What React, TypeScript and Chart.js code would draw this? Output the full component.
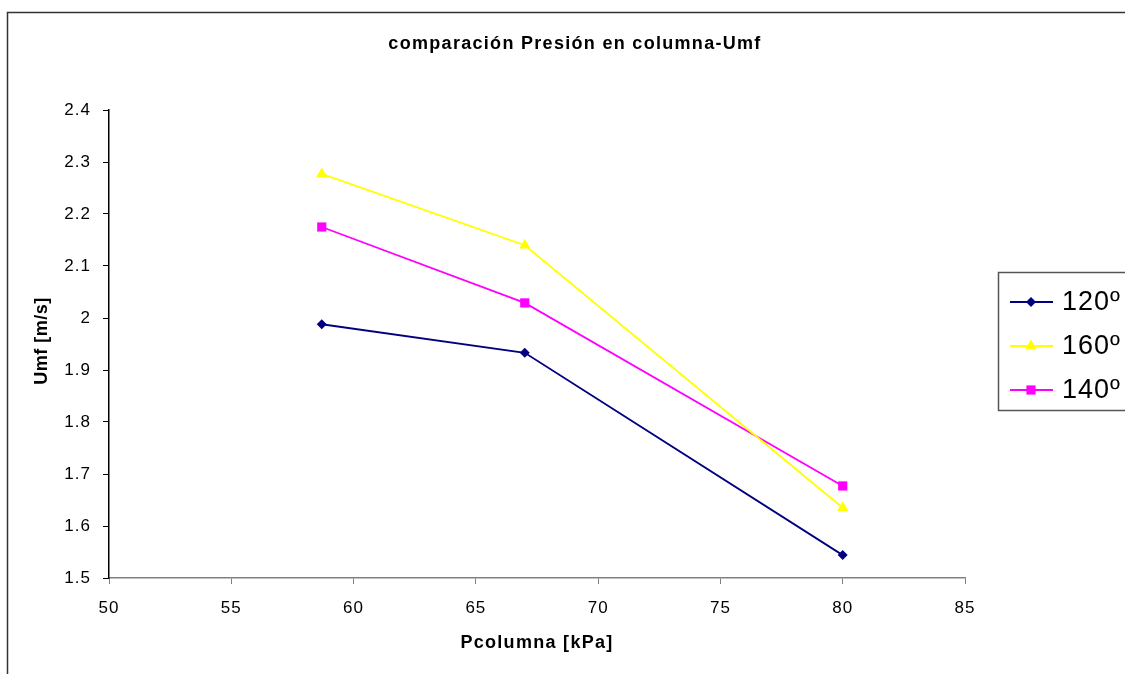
import React, { useEffect, useRef } from "react";
import { Chart, registerables } from "chart.js";

Chart.register(...registerables);

const xValues = [58.7, 67, 80];
const series120 = [1.988, 1.933, 1.544];
const series160 = [2.277, 2.14, 1.635];
const series140 = [2.175, 2.029, 1.677];
const seriesNames = ["120º", "160º", "140º"];
const chartTitle = "comparación Presión en columna-Umf";
const xTitle = "Pcolumna [kPa]";
const yTitle = "Umf [m/s]";

const FONT = "'Liberation Sans', Arial, sans-serif";

const colors = ["#000080", "#FFFF00", "#FF00FF"];
const styles: any[] = ["rectRot", "triangle", "rect"];
const radii = [5, 6.5, 6.5];

function drawMarker(ctx: CanvasRenderingContext2D, style: string, x: number, y: number, r: number, color: string) {
  ctx.save();
  ctx.fillStyle = color;
  ctx.beginPath();
  if (style === "rectRot") {
    ctx.moveTo(x, y - r);
    ctx.lineTo(x + r, y);
    ctx.lineTo(x, y + r);
    ctx.lineTo(x - r, y);
  } else if (style === "triangle") {
    ctx.moveTo(x, y - r);
    ctx.lineTo(x + r * 0.866, y + r * 0.5);
    ctx.lineTo(x - r * 0.866, y + r * 0.5);
  } else {
    const s = r * Math.SQRT1_2;
    ctx.rect(x - s, y - s, 2 * s, 2 * s);
  }
  ctx.closePath();
  ctx.fill();
  ctx.restore();
}

const decorPlugin = {
  id: "decor",
  beforeDraw(chart: any) {
    const ctx = chart.ctx as any;
    ctx.save();
    ctx.fillStyle = "#ffffff";
    ctx.fillRect(0, 0, chart.width, chart.height);
    ctx.strokeStyle = "#333333";
    ctx.lineWidth = 1.5;
    ctx.strokeRect(7.5, 12.5, 1300, 800);
    ctx.restore();
    ctx.letterSpacing = "1px";
  },
  afterDraw(chart: any) {
    const ctx = chart.ctx as any;
    ctx.save();
    ctx.fillStyle = "#000";
    ctx.textAlign = "center";
    ctx.textBaseline = "middle";
    ctx.font = `bold 18px ${FONT}`;
    ctx.letterSpacing = "1.3px";
    ctx.fillText(chartTitle, 575, 44);
    ctx.fillText(xTitle, 537, 643);
    ctx.letterSpacing = "0.5px";
    ctx.save();
    ctx.translate(42, 341);
    ctx.rotate(-Math.PI / 2);
    ctx.fillText(yTitle, 0, 0);
    ctx.restore();

    // legend
    ctx.strokeStyle = "#555";
    ctx.lineWidth = 1.5;
    ctx.strokeRect(998.5, 272.5, 200, 138);
    ctx.font = `27px ${FONT}`;
    ctx.letterSpacing = "1px";
    ctx.textAlign = "left";
    const ys = [302, 346, 390];
    for (let i = 0; i < 3; i++) {
      ctx.strokeStyle = colors[i];
      ctx.lineWidth = 2;
      ctx.beginPath();
      ctx.moveTo(1010, ys[i]);
      ctx.lineTo(1053, ys[i]);
      ctx.stroke();
      drawMarker(ctx, styles[i], 1031, ys[i], radii[i], colors[i]);
      ctx.fillStyle = "#000";
      ctx.fillText(seriesNames[i], 1062, ys[i] + 1);
    }
    ctx.restore();
  },
};

export default function App() {
  const ref = useRef<HTMLCanvasElement | null>(null);
  useEffect(() => {
    if (!ref.current) return;
    const mk = (vals: number[]) => xValues.map((x, i) => ({ x, y: vals[i] }));
    const all = [series120, series160, series140];
    const chart = new Chart(ref.current, {
      type: "scatter",
      data: {
        datasets: all.map((vals, i) => ({
          label: seriesNames[i],
          data: mk(vals),
          showLine: true,
          borderColor: colors[i],
          backgroundColor: colors[i],
          borderWidth: 1.8,
          pointStyle: styles[i],
          pointRadius: radii[i],
          pointBorderWidth: 0,
          pointBackgroundColor: colors[i],
        })),
      },
      plugins: [decorPlugin],
      options: {
        animation: false,
        responsive: false,
        events: [],
        layout: { padding: { left: 0, top: 110, right: 160, bottom: 0 } },
        plugins: {
          legend: { display: false },
          title: { display: false },
          tooltip: { enabled: false },
        },
        scales: {
          x: {
            type: "linear",
            min: 50,
            max: 85,
            afterFit: (s: any) => {
              s.height = 96;
            },
            ticks: {
              stepSize: 5,
              color: "#000",
              padding: 14,
              maxRotation: 0,
              font: { family: FONT, size: 17 },
            },
            grid: {
              display: true,
              drawOnChartArea: false,
              drawTicks: true,
              tickLength: 6,
              color: "#808080",
            },
            border: { color: "#808080", width: 1.5 },
          },
          y: {
            type: "linear",
            min: 1.5,
            max: 2.4,
            afterFit: (s: any) => {
              s.width = 109;
            },
            ticks: {
              stepSize: 0.1,
              color: "#000",
              padding: 12,
              font: { family: FONT, size: 17 },
              callback: (v: any) => String(Number(Number(v).toFixed(1))),
            },
            grid: {
              display: true,
              drawOnChartArea: false,
              drawTicks: true,
              tickLength: 6,
              color: "#000",
            },
            border: { color: "#000", width: 1.5 },
          },
        },
      },
    });
    return () => chart.destroy();
  }, []);
  return (
    <div style={{ position: "fixed", left: 0, top: 0, width: 1125, height: 674 }}>
      <canvas ref={ref} width={1125} height={674} style={{ display: "block" }} />
    </div>
  );
}
